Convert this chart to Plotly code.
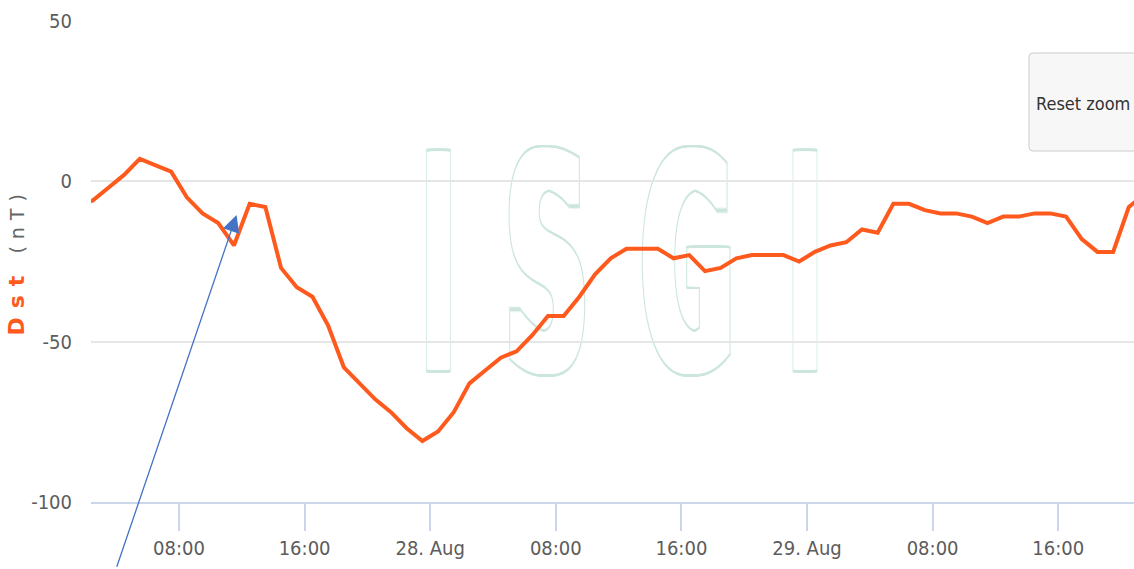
import base64

import pandas as pd
import plotly.graph_objects as go

# Hourly Dst index (nT); the first value is stamped 27 Aug 01:30
dst_start = "2015-08-27 01:30"
dst_values = [
    -7, -6, -2, 2, 7, 5, 3,
    -5, -10, -13, -20, -7, -8,
    -27, -33, -36, -45, -58,
    -63, -68, -72, -77, -81,
    -78, -72, -63, -59, -55, -53, -48, -42, -42,
    -36, -29, -24, -21, -21, -21,
    -24, -23, -28, -27, -24, -23, -23, -23,
    -25, -22, -20, -19, -15, -16,
    -7, -7, -9, -10, -10, -11, -13, -11, -11, -10, -10, -11,
    -18, -22, -22, -8, -4,
]
dst_times = pd.date_range(dst_start, periods=len(dst_values), freq="h")

x_range = ["2015-08-27 02:23:42", "2015-08-29 20:49:40"]
tick_times = [
    "2015-08-27 08:00", "2015-08-27 16:00", "2015-08-28 00:00", "2015-08-28 08:00",
    "2015-08-28 16:00", "2015-08-29 00:00", "2015-08-29 08:00", "2015-08-29 16:00",
]
tick_labels = ["08:00", "16:00", "28. Aug", "08:00", "16:00", "29. Aug", "08:00", "16:00"]
y_ticks = [-100, -50, 0, 50]
y_tick_labels = ["-100", "-50", "0", "50"]

LABEL_FONT = "DejaVu Sans Condensed, DejaVu Sans, sans-serif"
DST_COLOR = "#ff5a1e"

# Watermark letters: (char, centre x, horizontal scale)
WM_LETTERS = [("I", 23.5, 0.71), ("S", 132, 1.124), ("G", 272.5, 1.10), ("I", 390, 0.71)]
WM_SPREAD = 5      # horizontal thickening of the glyphs, px each side
WM_OUTLINE = 2.1   # outline thickness, px
WM_BASELINE = 229.6
WM_SY = 2.99


def glyph(ch, cx, sx, colour, stroke_w):
    stroke = f'stroke="{colour}" stroke-width="{stroke_w}" vector-effect="non-scaling-stroke" ' if stroke_w else ""
    return (
        f'<text transform="translate({cx},{WM_BASELINE}) scale({sx},{WM_SY})" text-anchor="middle" '
        f'font-family="DejaVu Sans" font-weight="bold" font-size="100" fill="{colour}" {stroke}>{ch}</text>'
    )


def thick_layer(colour, stroke_w):
    parts = []
    for ch, cx, sx in WM_LETTERS:
        for dx in range(-WM_SPREAD, WM_SPREAD + 1):
            parts.append(glyph(ch, cx + dx, sx, colour, stroke_w))
    return "".join(parts)


# Hollow "ISGI" watermark drawn as an SVG image behind the data:
# a teal, slightly stroked copy under a white copy leaves only a thin outline
wm_svg = (
    '<svg xmlns="http://www.w3.org/2000/svg" width="415" height="245" '
    'viewBox="0 0 415 245" preserveAspectRatio="none">'
    + thick_layer("#cce6df", 2 * WM_OUTLINE)
    + thick_layer("#ffffff", 0)
    + "</svg>"
)
wm_src = "data:image/svg+xml;base64," + base64.b64encode(wm_svg.encode()).decode()

fig = go.Figure()
fig.add_trace(
    go.Scatter(
        x=dst_times,
        y=dst_values,
        mode="lines",
        line=dict(color=DST_COLOR, width=4),
        name="Dst",
        showlegend=False,
    )
)

fig.add_layout_image(
    dict(
        source=wm_src,
        xref="paper", yref="paper",
        x=0.3106, y=0.7526,
        sizex=0.3979, sizey=0.5094,
        xanchor="left", yanchor="top",
        sizing="stretch",
        layer="below",
    )
)

# "Reset zoom" button (rounded rectangle + label)
bx0, bx1, by0, by1 = 0.8993, 1.06, 0.7297, 0.9335
rx, ry = 4 / 1043, 4 / 481
button_path = (
    f"M{bx0 + rx},{by1} L{bx1},{by1} L{bx1},{by0} L{bx0 + rx},{by0} "
    f"Q{bx0},{by0} {bx0},{by0 + ry} L{bx0},{by1 - ry} Q{bx0},{by1} {bx0 + rx},{by1} Z"
)
fig.add_shape(
    type="path", xref="paper", yref="paper", path=button_path,
    fillcolor="#f7f7f7", line=dict(color="#cccccc", width=1),
)
fig.add_annotation(
    x=0.9511, y=0.8295, xref="paper", yref="paper",
    xanchor="center", yanchor="middle",
    text="Reset zoom", showarrow=False,
    font=dict(family=LABEL_FONT, size=18, color="#333333"),
)

# Rotated y-axis title
fig.add_annotation(
    x=-0.0719, y=0.5, xref="paper", yref="paper",
    xanchor="center", yanchor="middle",
    textangle=-90, showarrow=False,
    text=(
        f'<b><span style="color:{DST_COLOR};font-size:22px;letter-spacing:9px">Dst</span></b>'
        '<span style="color:#666666;font-size:19px;letter-spacing:7px"> (nT)</span>'
    ),
    font=dict(family="DejaVu Sans", size=20),
)

# Pointer arrow
fig.add_annotation(
    x="2015-08-27 11:40", y=-10.5, xref="x", yref="y",
    ax=-120.3, ay=353.3, axref="pixel", ayref="pixel",
    text="", showarrow=True,
    arrowhead=2, arrowsize=2.6, arrowwidth=1.3, arrowcolor="#4472c4",
)

fig.update_layout(
    width=1134, height=569,
    margin=dict(l=91, r=0, t=21, b=67),
    paper_bgcolor="white", plot_bgcolor="white",
    xaxis=dict(
        type="date",
        range=x_range,
        tickmode="array", tickvals=tick_times, ticktext=tick_labels,
        showgrid=False, zeroline=False,
        showline=True, linecolor="#ccd6eb", linewidth=2,
        ticks="outside", ticklen=27, tickwidth=1.5, tickcolor="#ccd6eb",
        tickfont=dict(family=LABEL_FONT, size=20, color="#5c5c5c"),
    ),
    yaxis=dict(
        range=[-100, 50],
        tickmode="array", tickvals=y_ticks, ticktext=y_tick_labels,
        showgrid=True, gridcolor="#e6e6e6", gridwidth=2,
        zeroline=False, showline=False,
        ticks="outside", ticklen=14, tickcolor="rgba(0,0,0,0)",
        tickfont=dict(family=LABEL_FONT, size=20, color="#5c5c5c"),
    ),
)

fig.write_html("out.html")
